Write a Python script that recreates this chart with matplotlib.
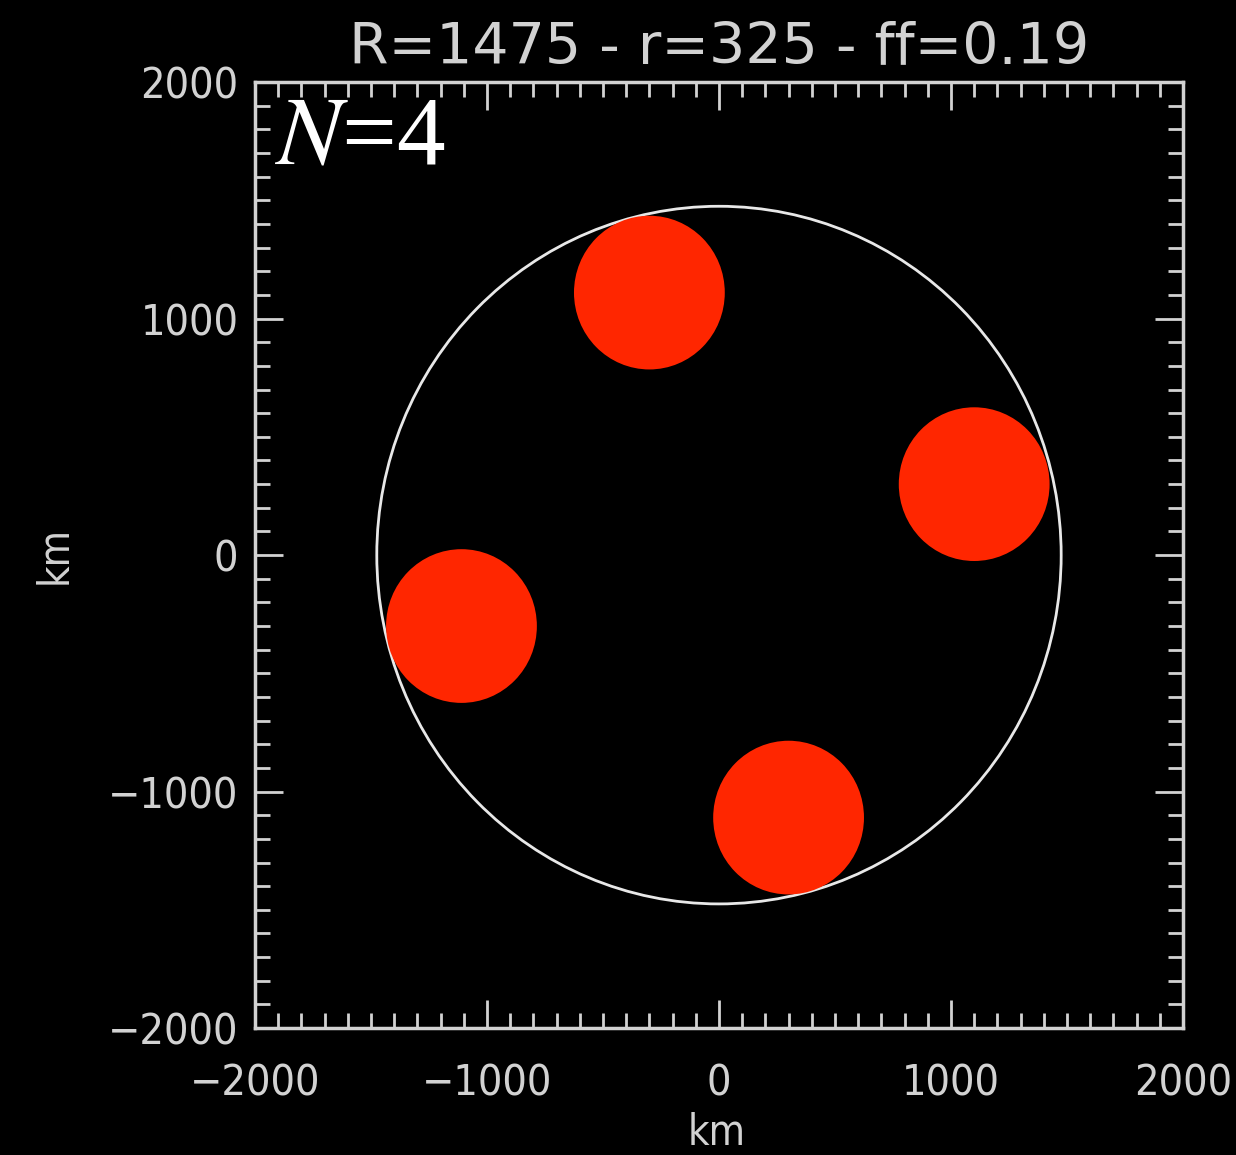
import matplotlib
matplotlib.use("Agg")
import matplotlib.pyplot as plt
from matplotlib.patches import Circle
from matplotlib.ticker import MultipleLocator

# star and spot parameters (km)
R_star = 1475
r_spot = 325
fill_factor = 0.19
spot_x = [-300, 1100, -1110, 300]
spot_y = [1110, 300, -300, -1110]

ticks = [-2000, -1000, 0, 1000, 2000]

fg = "#d2d2d2"
lab_props = dict(family="DejaVu Sans", stretch="condensed", weight="light")

fig = plt.figure(figsize=(12.36, 11.55), dpi=100, facecolor="black")
ax = fig.add_axes([0.2063, 0.1099, 0.7508, 0.8190], facecolor="black")

ax.add_patch(Circle((0, 0), R_star, fill=False, edgecolor="#e8e8e8", linewidth=2))
for x, y in zip(spot_x, spot_y):
    ax.add_patch(Circle((x, y), r_spot, facecolor="#ff2600", edgecolor="none"))

ax.set_xlim(-2000, 2000)
ax.set_ylim(-2000, 2000)
ax.set_xticks(ticks)
ax.set_yticks(ticks)
ax.xaxis.set_minor_locator(MultipleLocator(100))
ax.yaxis.set_minor_locator(MultipleLocator(100))
ax.tick_params(which="both", direction="in", top=True, right=True, colors=fg, width=2)
ax.tick_params(which="major", length=20, labelsize=31)
ax.tick_params(axis="x", which="major", pad=25)
ax.tick_params(axis="y", which="major", pad=12)
ax.tick_params(which="minor", length=11)
for lbl in ax.get_xticklabels() + ax.get_yticklabels():
    lbl.set(**lab_props)
    lbl.set_color(fg)
for sp in ax.spines.values():
    sp.set_color(fg)
    sp.set_linewidth(2.5)

ax.set_xlabel("km", color=fg, fontsize=30, **lab_props)
ax.set_ylabel("km", color=fg, fontsize=30, **lab_props)
ax.xaxis.set_label_coords(0.497, -0.089)
ax.yaxis.set_label_coords(-0.193, 0.5)
ax.set_title(f"R={R_star} - r={r_spot} - ff={fill_factor:.2f}", color=fg,
             fontsize=41, pad=14, family="DejaVu Sans")

ax.text(0.022, 0.985, "$N$=4", transform=ax.transAxes, color="white",
        fontsize=70, family="Liberation Serif", va="top", ha="left",
        math_fontfamily="stix")

fig.savefig("out.png", dpi=100, facecolor="black")
